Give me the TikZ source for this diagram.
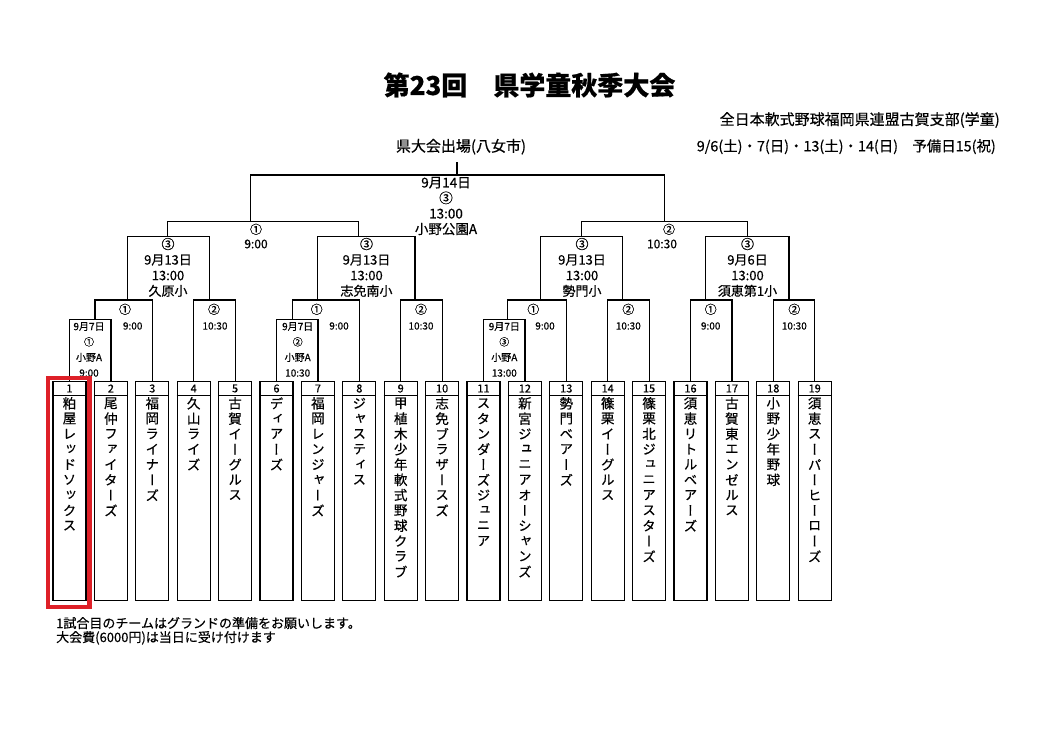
\documentclass[tikz,border=0pt]{standalone}
\usepackage{fontspec}
\setmainfont{Noto Sans CJK JP}[FakeBold=0.5]
\newfontfamily\tatefont{Noto Sans CJK JP}[RawFeature=+vert, FakeBold=0.5]
\usetikzlibrary{positioning}

\definecolor{markred}{RGB}{222,32,40}

\tikzset{teambox/.style=
   {rectangle,
    draw,
    line width=1.2pt,
    minimum width=33pt,
    minimum height=219pt,
    inner sep=0pt}}
\tikzset{bracket/.style = {draw, line width=1.2pt}}
\tikzset{teamnum/.style = {inner sep=0pt, font=\fontsize{11}{11}\selectfont}}
\tikzset{namechar/.style = {inner sep=0pt, font=\tatefont\fontsize{13.5}{13.5}\selectfont}}
\tikzset{finalinfo/.style = {align=center, inner sep=0pt, font=\fontsize{13.5}{15.5}\selectfont}}
\tikzset{roundinfo/.style = {align=center, inner sep=0pt, font=\fontsize{13}{15.6}\selectfont}}
\tikzset{firstinfo/.style = {align=center, inner sep=0pt, font=\fontsize{10}{15.5}\selectfont}}
\tikzset{circnum/.style = {inner sep=0pt, font=\fontsize{12}{12}\selectfont}}
\tikzset{gametime/.style = {inner sep=0pt, font=\fontsize{10}{10}\selectfont}}
\tikzset{headtext/.style = {inner sep=0pt, font=\fontsize{15}{15}\selectfont}}
\tikzset{note/.style = {align=left, inner sep=0pt, font=\fontsize{13}{14}\selectfont}}

% team name written top to bottom, one character per line
\makeatletter
\newcount\tate@n
\newcommand\tatename[2]{%
  \global\tate@n=0
  \@tfor\tate@c:=#2\do{%
    \pgfmathsetmacro\tate@dy{-22.3-15.3*\the\tate@n}%
    \node [namechar] (#1c\the\tate@n) at ([yshift=\tate@dy pt]#1.north) {\tate@c};%
    \global\advance\tate@n by 1\relax}}
\makeatother

\begin{document}
\begin{tikzpicture}[x=1pt, y=-1pt]
    \useasboundingbox (0,0) rectangle (1053,744);

    % Headings
    \node [font=\bfseries\fontsize{26}{26}\selectfont] (title) at (529.5,85) {第23回　県学童秋季大会};
    \node [headtext, anchor=east] (league) at (1000,120) {全日本軟式野球福岡県連盟古賀支部(学童)};
    \node [headtext, outer sep=7pt] (champ) at (461,146.7) {県大会出場(八女市)};
    \node [headtext, font=\fontsize{14.4}{14.4}\selectfont, anchor=east] (dates) at (996,146.7) {9/6(土)・7(日)・13(土)・14(日)　予備日15(祝)};

    % Place team boxes
    \foreach \i in {1,...,19} {
        \node [teambox, anchor=north] (team\i) at ({69.5+(\i-1)*41.4},381) {};
        \draw [bracket] ([yshift=-14.5pt]team\i.north west) -- ([yshift=-14.5pt]team\i.north east);
        \node [teamnum] (num\i) at ([yshift=-7.5pt]team\i.north) {\i};
    }

    % Team names
    \tatename{team1}{粕屋レッドソックス}
    \tatename{team2}{尾仲ファイターズ}
    \tatename{team3}{福岡ライナーズ}
    \tatename{team4}{久山ライズ}
    \tatename{team5}{古賀イーグルス}
    \tatename{team6}{ディアーズ}
    \tatename{team7}{福岡レンジャーズ}
    \tatename{team8}{ジャスティス}
    \tatename{team9}{甲植木少年軟式野球クラブ}
    \tatename{team10}{志免ブラザースズ}
    \tatename{team11}{スタンダーズジュニア}
    \tatename{team12}{新宮ジュニアオーシャンズ}
    \tatename{team13}{勢門ベアーズ}
    \tatename{team14}{篠栗イーグルス}
    \tatename{team15}{篠栗北ジュニアスターズ}
    \tatename{team16}{須恵リトルベアーズ}
    \tatename{team17}{古賀東エンゼルス}
    \tatename{team18}{小野少年野球}
    \tatename{team19}{須恵スーパーヒーローズ}

    % Game points
    \coordinate (g12) at (95,319.3);
    \coordinate (g67) at (292.3,319.3);
    \coordinate (g1112) at (507.7,319.3);
    \coordinate (g123) at (127.7,300);
    \coordinate (g45) at (209.3,300);
    \coordinate (g678) at (317.7,300);
    \coordinate (g910) at (415,300);
    \coordinate (g111213) at (540.3,300);
    \coordinate (g1415) at (622.7,300);
    \coordinate (g1617) at (705.7,300);
    \coordinate (g1819) at (789,300);
    \coordinate (kuhara) at (167.7,236.7);
    \coordinate (shimen) at (358.3,236.7);
    \coordinate (seimon) at (581.7,236.7);
    \coordinate (sue) at (747.3,236.7);
    \coordinate (semiL) at (250.7,221.7);
    \coordinate (semiR) at (664.3,221.7);
    \coordinate (final) at (457,175);

    % Draw edges
    \draw [bracket] (team1.north) |- (g12) -| (team2.north);
    \draw [bracket] (team6.north) |- (g67) -| (team7.north);
    \draw [bracket] (team11.north) |- (g1112) -| (team12.north);
    \draw [bracket] (g12) |- (g123) -| (team3.north);
    \draw [bracket] (team4.north) |- (g45) -| (team5.north);
    \draw [bracket] (g67) |- (g678) -| (team8.north);
    \draw [bracket] (team9.north) |- (g910) -| (team10.north);
    \draw [bracket] (g1112) |- (g111213) -| (team13.north);
    \draw [bracket] (team14.north) |- (g1415) -| (team15.north);
    \draw [bracket] (team16.north) |- (g1617) -| (team17.north);
    \draw [bracket] (team18.north) |- (g1819) -| (team19.north);
    \draw [bracket] (g123) |- (kuhara) -| (g45);
    \draw [bracket] (g678) |- (shimen) -| (g910);
    \draw [bracket] (g111213) |- (seimon) -| (g1415);
    \draw [bracket] (g1617) |- (sue) -| (g1819);
    \draw [bracket] (kuhara) |- (semiL) -| (shimen);
    \draw [bracket] (seimon) |- (semiR) -| (sue);
    \draw [bracket] (semiL) |- (final) -| (semiR);
    \draw [bracket] (final) -- (final |- champ.south);

    % Game labels
    \node [finalinfo] (finalnote) at (446,206) {9月14日\\③\\13:00\\小野公園A};
    \node [circnum] (semiLno) at (256,229.3) {①};
    \node [circnum] (semiLtime) at (256,244) {9:00};
    \node [circnum] (semiRno) at (669,229.3) {②};
    \node [circnum] (semiRtime) at (662,244) {10:30};

    \node [roundinfo] (kuharanote) at (168,267.4) {③\\9月13日\\13:00\\久原小};
    \node [roundinfo] (shimennote) at (366.5,267.4) {③\\9月13日\\13:00\\志免南小};
    \node [roundinfo] (seimonnote) at (582,267.4) {③\\9月13日\\13:00\\勢門小};
    \node [roundinfo] (suenote) at (747.5,267.4) {③\\9月6日\\13:00\\須恵第1小};

    \foreach \cx/\cn/\tx/\tm [count=\k] in {125/①/132.7/9:00, 214/②/215/10:30,
            316.7/①/339/9:00, 421/②/421/10:30, 533.3/①/545/9:00,
            628.3/②/628.3/10:30, 710.7/①/710.7/9:00, 794.3/②/794.3/10:30} {
        \node [circnum] (round2no\k) at (\cx,309.3) {\cn};
        \node [gametime] (round2time\k) at (\tx,326) {\tm};
    }

    \node [firstinfo] (g12note) at (89,349.5) {9月7日\\①\\小野A\\9:00};
    \node [firstinfo] (g67note) at (297.7,349.5) {9月7日\\②\\小野A\\10:30};
    \node [firstinfo] (g1112note) at (504.3,349.5) {9月7日\\③\\小野A\\13:00};

    % Red mark round team 1
    \draw [markred, line width=4.5pt] ([shift={(-4.5pt,3pt)}]team1.north west) rectangle ([shift={(3pt,-5.8pt)}]team1.south east);

    % Notes
    \node [note, anchor=west] (notes) at (56,630.8) {1試合目のチームはグランドの準備をお願いします。\\大会費(6000円)は当日に受け付けます};

\end{tikzpicture}
\end{document}
